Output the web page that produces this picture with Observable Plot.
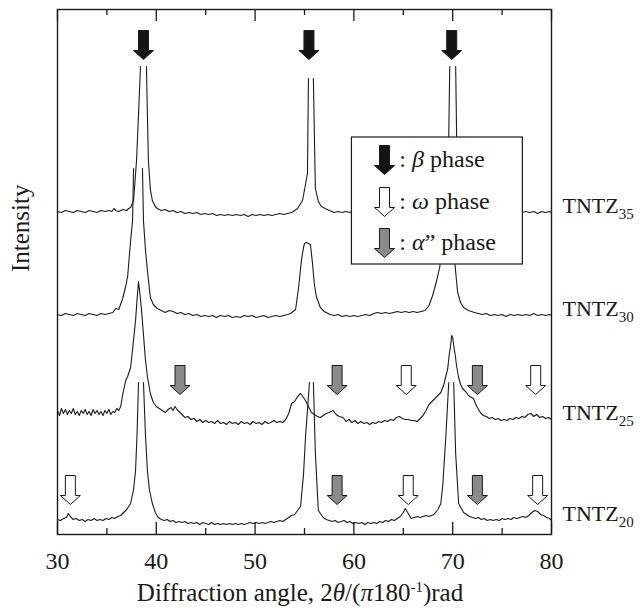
<!DOCTYPE html>
<html>
<head>
<meta charset="utf-8">
<script src="https://cdn.jsdelivr.net/npm/d3@7"></script>
<script src="https://cdn.jsdelivr.net/npm/@observablehq/plot@0.6"></script>
<style>
  body { margin: 0; background: white; }
  #chart svg { display: block; }
  #chart svg text { font-family: "Liberation Serif", "Times New Roman", serif !important; }
  #xtitle { font-family: "Liberation Serif", "Times New Roman", serif; font-size: 25px; line-height: 30px; height: 30px;
            margin-left: 57px; width: 486px; text-align: center; color: #1a1a1a; white-space: nowrap; }
  #xtitle sup { font-size: 15px; line-height: 0; }
</style>
</head>
<body>
<div id="chart"></div>
<div id="xtitle">Diffraction angle, 2<i>θ</i>/(<i>π</i>180<sup>-1</sup>)rad</div>
<script>
// ---- data (stacked intensity, arbitrary units; null = broken peak top) ----
const alloys = ["35", "30", "25", "20"];

const tntz35 = [[30,323],[30.4,322],[30.8,324],[31.2,323],[31.6,322],[32,324],[32.4,323],[32.8,322],[33.2,324],[33.6,323],[34,322],[34.4,324],[34.8,323],[35.2,324],[35.5,323],[35.7,326],[35.9,324],[36.2,323],[36.6,325],[37,324],[37.2,326],[37.4,327],[37.7,334],[38.0,374],[38.2,420],[38.4,468],[38.7,null],[39.0,468],[39.1,420],[39.2,374],[39.4,345],[39.6,334],[39.9,328],[40.1,326],[40.5,324],[40.9,325],[41.3,323],[41.7,324],[42.1,322],[42.5,323],[42.9,321],[43.3,322],[43.7,321],[44.1,322],[44.5,320],[44.9,321],[45.3,320],[45.7,321],[46.1,319],[46.5,320],[46.9,319],[47.3,320],[47.7,319],[48.1,320],[48.5,319],[48.9,320],[49.3,318],[49.7,320],[50.1,319],[50.5,320],[50.9,319],[51.3,320],[51.7,319],[52.1,320],[52.5,321],[52.9,320],[53.3,321],[53.7,322],[54.0,324],[54.3,326],[54.8,334],[55.1,350],[55.3,361],[55.4,456],[55.65,null],[55.9,456],[56.0,400],[56.1,346],[56.4,333],[56.7,328],[57.1,326],[57.5,324],[58,322],[58.4,323],[58.8,322],[59.2,323],[59.6,322],[60,323],[61,322],[62,323],[63,322],[64,323],[65,322],[66,323],[67,322],[68,323],[68.8,326],[69.2,332],[69.45,360],[69.6,397],[69.7,468],[70.0,null],[70.3,468],[70.4,397],[70.55,360],[70.8,332],[71.2,326],[72,323],[73,322],[74,323],[75,322],[76,323],[77,322],[77.4,323],[77.8,322],[78.2,323],[78.6,321],[79,323],[79.4,322],[79.8,323],[80,322]];

const tntz30 = [[30,220],[30.4,219],[30.8,221],[31.2,220],[31.6,219],[32,221],[32.4,220],[32.8,219],[33.2,221],[33.6,220],[34,219],[34.4,221],[34.8,220],[35.2,221],[35.6,222],[35.9,226],[36.2,225],[36.6,236],[36.9,248],[37.1,258],[37.4,294],[37.6,314],[37.7,366],[38.15,null],[38.6,366],[38.7,314],[38.9,285],[39.1,264],[39.4,237],[39.7,230],[40.1,226],[40.5,224],[40.9,222],[41.3,224],[41.7,223],[42.1,221],[42.5,222],[42.9,220],[43.3,221],[43.7,219],[44.1,220],[44.5,218],[44.9,219],[45.3,218],[45.7,219],[46.1,217],[46.5,219],[46.9,218],[47.3,219],[47.7,217],[48.1,218],[48.5,217],[48.9,219],[49.3,218],[49.7,219],[50.1,217],[50.5,218],[50.9,219],[51.3,217],[51.7,218],[52.1,219],[52.5,218],[52.9,219],[53.3,220],[53.6,221],[54.1,225],[54.4,247],[54.7,275],[54.9,287],[55.0,291],[55.2,292],[55.4,291],[55.6,290],[55.8,272],[56.0,250],[56.2,238],[56.6,227],[57.0,223],[57.6,220],[58,219],[58.4,220],[58.8,218],[59.2,219],[59.6,218],[60,219],[60.4,218],[60.8,219],[61.2,220],[61.6,219],[62,221],[62.4,222],[62.8,221],[63.2,222],[63.6,221],[64,222],[64.4,223],[64.8,222],[65.2,223],[65.6,222],[66,223],[66.4,222],[66.8,223],[67.2,224],[67.6,229],[68.0,240],[68.4,255],[68.7,268],[68.9,300],[69.1,380],[69.5,null],[69.9,380],[70.1,300],[70.25,268],[70.5,242],[70.8,232],[71.1,227],[71.6,224],[72.2,222],[72.6,221],[73,220],[73.4,221],[73.8,219],[74.2,220],[74.6,219],[75,220],[75.4,218],[75.8,220],[76.2,219],[76.6,220],[77,219],[77.4,220],[77.8,219],[78.2,221],[78.6,219],[79,220],[79.4,219],[79.8,220],[80,219]];

const tntz25 = [[30,124],[30.2,119],[30.4,126],[30.6,121],[30.8,125],[31,120],[31.2,124],[31.4,121],[31.6,126],[31.8,120],[32,123],[32.2,119],[32.4,124],[32.6,121],[32.8,125],[33,120],[33.2,123],[33.4,119],[33.6,125],[33.8,121],[34,124],[34.2,120],[34.4,123],[34.6,119],[34.8,124],[35,121],[35.2,125],[35.4,120],[35.6,123],[35.8,122],[36,126],[36.2,124],[36.4,128],[36.6,140],[36.9,154],[37.1,158],[37.4,167],[37.6,185],[37.9,214],[38.05,235],[38.2,253],[38.35,240],[38.5,225],[38.7,200],[38.9,175],[39.1,158],[39.4,141],[39.7,132],[40.0,128],[40.3,126],[40.6,124],[40.9,122],[41.2,125],[41.5,127],[41.7,124],[41.9,128],[42.1,125],[42.3,123],[42.6,120],[42.9,117],[43.2,118],[43.5,115],[43.8,116],[44.1,113],[44.4,115],[44.7,112],[45,114],[45.3,112],[45.6,113],[45.9,111],[46.2,114],[46.5,111],[46.8,112],[47.1,110],[47.4,113],[47.7,111],[48,112],[48.3,110],[48.6,113],[48.9,111],[49.2,112],[49.5,110],[49.8,113],[50.1,111],[50.4,112],[50.7,110],[51,113],[51.3,111],[51.6,112],[51.9,114],[52.2,112],[52.5,113],[52.8,112],[53.1,115],[53.4,121],[53.7,131],[54.0,133],[54.3,138],[54.6,141],[54.9,137],[55.1,134],[55.4,128],[55.7,122],[56.0,120],[56.3,118],[56.6,117],[56.9,119],[57.2,121],[57.5,122],[57.9,124],[58.2,120],[58.5,118],[58.9,117],[59.2,113],[59.5,115],[59.8,112],[60.1,114],[60.4,111],[60.7,113],[61,111],[61.3,112],[61.6,110],[61.9,112],[62.2,111],[62.5,113],[62.8,112],[63.1,114],[63.4,113],[63.7,115],[64,114],[64.3,117],[64.6,118],[64.9,116],[65.2,115],[65.5,115],[65.8,114],[66.1,114],[66.4,113],[66.7,116],[67,119],[67.3,124],[67.6,130],[67.9,133],[68.2,136],[68.5,139],[68.8,142],[69.1,150],[69.3,158],[69.5,166],[69.65,180],[69.8,190],[69.9,199],[70,197],[70.1,189],[70.25,180],[70.4,168],[70.6,157],[70.8,150],[71,146],[71.3,143],[71.6,139],[71.9,137],[72.1,136],[72.3,131],[72.5,127],[72.8,122],[73.1,119],[73.4,118],[73.7,116],[74,117],[74.3,115],[74.6,116],[74.9,114],[75.2,115],[75.5,114],[75.8,116],[76.1,115],[76.4,117],[76.7,116],[77,118],[77.3,117],[77.6,120],[77.9,121],[78.2,118],[78.5,120],[78.8,117],[79.1,118],[79.4,116],[79.7,117],[80,115]];

const tntz20 = [[30,15],[30.3,14],[30.6,16],[30.9,17],[31.1,21],[31.3,18],[31.6,15],[31.9,16],[32.2,14],[32.5,15],[32.8,13],[33.1,15],[33.4,14],[33.7,16],[34,14],[34.3,15],[34.6,14],[34.9,16],[35.2,15],[35.5,17],[35.8,16],[36.1,18],[36.4,19],[36.6,21],[37,25],[37.4,31],[37.7,45],[37.9,64],[38.05,100],[38.2,152],[38.45,null],[38.7,152],[38.9,100],[39.1,64],[39.3,45],[39.6,31],[39.9,22],[40.2,17],[40.5,15],[40.8,14],[41.1,15],[41.4,13],[41.7,14],[42,12],[42.3,13],[42.6,12],[42.9,13],[43.2,11],[43.5,12],[43.8,11],[44.1,12],[44.4,10],[44.7,12],[45,11],[45.3,10],[45.6,12],[45.9,10],[46.2,11],[46.5,10],[46.8,11],[47.1,10],[47.4,11],[47.7,10],[48,11],[48.3,10],[48.6,11],[48.9,10],[49.2,11],[49.5,12],[49.8,11],[50.1,12],[50.4,11],[50.7,12],[51,11],[51.3,12],[51.6,13],[51.9,12],[52.2,13],[52.5,14],[52.8,13],[53.1,15],[53.4,17],[53.7,19],[54,20],[54.3,24],[54.6,28],[54.9,60],[55.1,97],[55.5,152],[55.7,null],[55.9,152],[56.1,81],[56.4,24],[56.9,17],[57.2,15],[57.5,14],[57.8,13],[58.1,14],[58.4,12],[58.7,13],[59,14],[59.3,12],[59.6,13],[59.9,11],[60.2,12],[60.5,11],[60.8,12],[61.1,10],[61.4,12],[61.7,11],[62,12],[62.3,11],[62.6,13],[62.9,12],[63.2,14],[63.5,13],[63.8,15],[64.1,14],[64.4,16],[64.7,18],[65,22],[65.2,26],[65.5,21],[65.8,16],[66.1,17],[66.4,18],[66.7,17],[67,18],[67.3,19],[67.6,18],[68.1,20],[68.5,25],[68.8,31],[69,50],[69.3,97],[69.6,152],[69.85,null],[70.1,152],[70.3,81],[70.6,31],[71.1,22],[71.4,20],[71.7,18],[72,17],[72.3,16],[72.6,17],[72.9,15],[73.2,16],[73.5,14],[73.8,15],[74.1,14],[74.4,15],[74.7,14],[75,16],[75.3,15],[75.6,16],[75.9,15],[76.2,17],[76.5,16],[76.8,17],[77.1,18],[77.4,17],[77.7,19],[78,22],[78.3,24],[78.6,23],[78.9,20],[79.2,19],[79.5,17],[79.8,16],[80,14]];

// phase markers: angle and the intensity level of the arrow tip
const markerPhase = ["β","β","β","α","α","α","ω","ω","ω","ω","ω","α","α"];
const markerAngle = [38.7,55.45,69.9, 42.4,58.3,72.5, 65.3,78.4, 31.3,65.5,78.6, 58.3,72.5];
const markerLevel = [475,475,475, 140,140,140, 140,140, 30,30,30, 30,30];

const phases = ["β", "ω", "α"];
const phaseLabels = [": β phase", ": ω phase", ": α” phase"];
const phaseFill = {"β": "#141414", "ω": "#ffffff", "α": "#8a8a8a"};

const xTicks = [30, 40, 50, 60, 70, 80];
const xMinor = [35, 45, 55, 65, 75];

// ---- build ----
const labelDy = {"35": -20, "30": -13, "25": -11, "20": -13};
const traces = [tntz35, tntz30, tntz25, tntz20];
const rows = traces.flatMap((t, i) => t.map(([a, v]) => ({alloy: alloys[i], angle: a, intensity: v})));
const ends = traces.map((t, i) => ({alloy: alloys[i], angle: t[t.length - 1][0], intensity: t[t.length - 1][1]}));
const markers = markerAngle.map((a, i) => ({phase: markerPhase[i], angle: a, level: markerLevel[i]}));

const arrow = {
  draw(ctx) {
    ctx.moveTo(0, 0); ctx.lineTo(-10, -9); ctx.lineTo(-5, -9); ctx.lineTo(-5, -29);
    ctx.lineTo(5, -29); ctx.lineTo(5, -9); ctx.lineTo(10, -9); ctx.closePath();
  }
};

const yTop = 525;
const legend = {x1: 59.8, x2: 77.1, y1: 270, y2: 397, ax: 63.1, tx: 64.6, tips: [360, 318, 277]};
const legendRows = phases.map((p, i) => ({phase: p, label: phaseLabels[i], tip: legend.tips[i]}));

const font = "Liberation Serif, Times New Roman, serif";

const plot = Plot.plot({
  width: 640, height: 578,
  marginLeft: 57, marginRight: 89, marginTop: 9, marginBottom: 44,
  style: {background: "white", overflow: "visible", color: "#1a1a1a"},
  x: {domain: [30, 80], axis: null},
  y: {domain: [0, yTop], axis: null},
  marks: [
    Plot.line(rows, {x: "angle", y: "intensity", z: "alloy", stroke: "#1c1c1c", strokeWidth: 1.1}),
    // tick marks (inside, bottom and top)
    Plot.ruleX(xTicks, {x: d => d, y1: 0, y2: 12, stroke: "#1a1a1a", strokeWidth: 1.3}),
    Plot.ruleX(xMinor, {x: d => d, y1: 0, y2: 6, stroke: "#1a1a1a", strokeWidth: 1.3}),
    Plot.ruleX(xTicks, {x: d => d, y1: yTop - 12, y2: yTop, stroke: "#1a1a1a", strokeWidth: 1.3}),
    Plot.ruleX(xMinor, {x: d => d, y1: yTop - 6, y2: yTop, stroke: "#1a1a1a", strokeWidth: 1.3}),
    Plot.axisX({ticks: xTicks, tickSize: 0, tickPadding: 17, fontSize: 24, label: null, fontFamily: font}),
    Plot.frame({stroke: "#1a1a1a", strokeWidth: 1.4}),
    // phase arrows
    ...phases.map(p => Plot.dot(markers.filter(d => d.phase === p), {
      x: "angle", y: "level", symbol: arrow, r: 5, fill: phaseFill[p], stroke: "#1a1a1a", strokeWidth: 1
    })),
    // legend
    Plot.rect([legend], {x1: "x1", x2: "x2", y1: "y1", y2: "y2", fill: "white", stroke: "#1a1a1a", strokeWidth: 1.2}),
    ...phases.map(p => Plot.dot(legendRows.filter(d => d.phase === p), {
      x: () => legend.ax, y: "tip", symbol: arrow, r: 5, fill: phaseFill[p], stroke: "#1a1a1a", strokeWidth: 1
    })),
    Plot.text(legendRows, {x: () => legend.tx, y: d => d.tip + 15, text: "label", textAnchor: "start", fontSize: 24, fontFamily: font, fill: "#1a1a1a"}),
    // alloy labels
    Plot.text(ends, {x: "angle", y: d => d.intensity, text: d => "TNTZ_" + d.alloy, textAnchor: "start", dx: 11,
      dy: 0, fontSize: 22, fontFamily: font, fill: "#1a1a1a"}),
    // y label
    Plot.text(["Intensity"], {frameAnchor: "left", dx: -37, rotate: -90, fontSize: 25, fontFamily: font, fill: "#1a1a1a"})
  ]
});

// rich text: italic Greek letters, subscripts, per-label vertical offsets
const NS = "http://www.w3.org/2000/svg";
d3.select(plot).selectAll("text").each(function () {
  const s = this.textContent;
  const m = /^TNTZ_(\d+)$/.exec(s);
  if (m) {
    this.textContent = "TNTZ";
    const base = +(this.getAttribute("y") || 0);
    this.setAttribute("y", base + labelDy[m[1]]);
    const sub = document.createElementNS(NS, "tspan");
    sub.setAttribute("dy", "6");
    sub.setAttribute("font-size", "15");
    sub.textContent = m[1];
    this.appendChild(sub);
  } else if (/[α-ω]/.test(s)) {
    this.textContent = "";
    for (const part of s.split(/([α-ω]+)/)) {
      if (!part) continue;
      const ts = document.createElementNS(NS, "tspan");
      if (/[α-ω]/.test(part)) ts.setAttribute("font-style", "italic");
      ts.textContent = part;
      this.appendChild(ts);
    }
  }
});

document.getElementById("chart").appendChild(plot);
</script>
</body>
</html>
